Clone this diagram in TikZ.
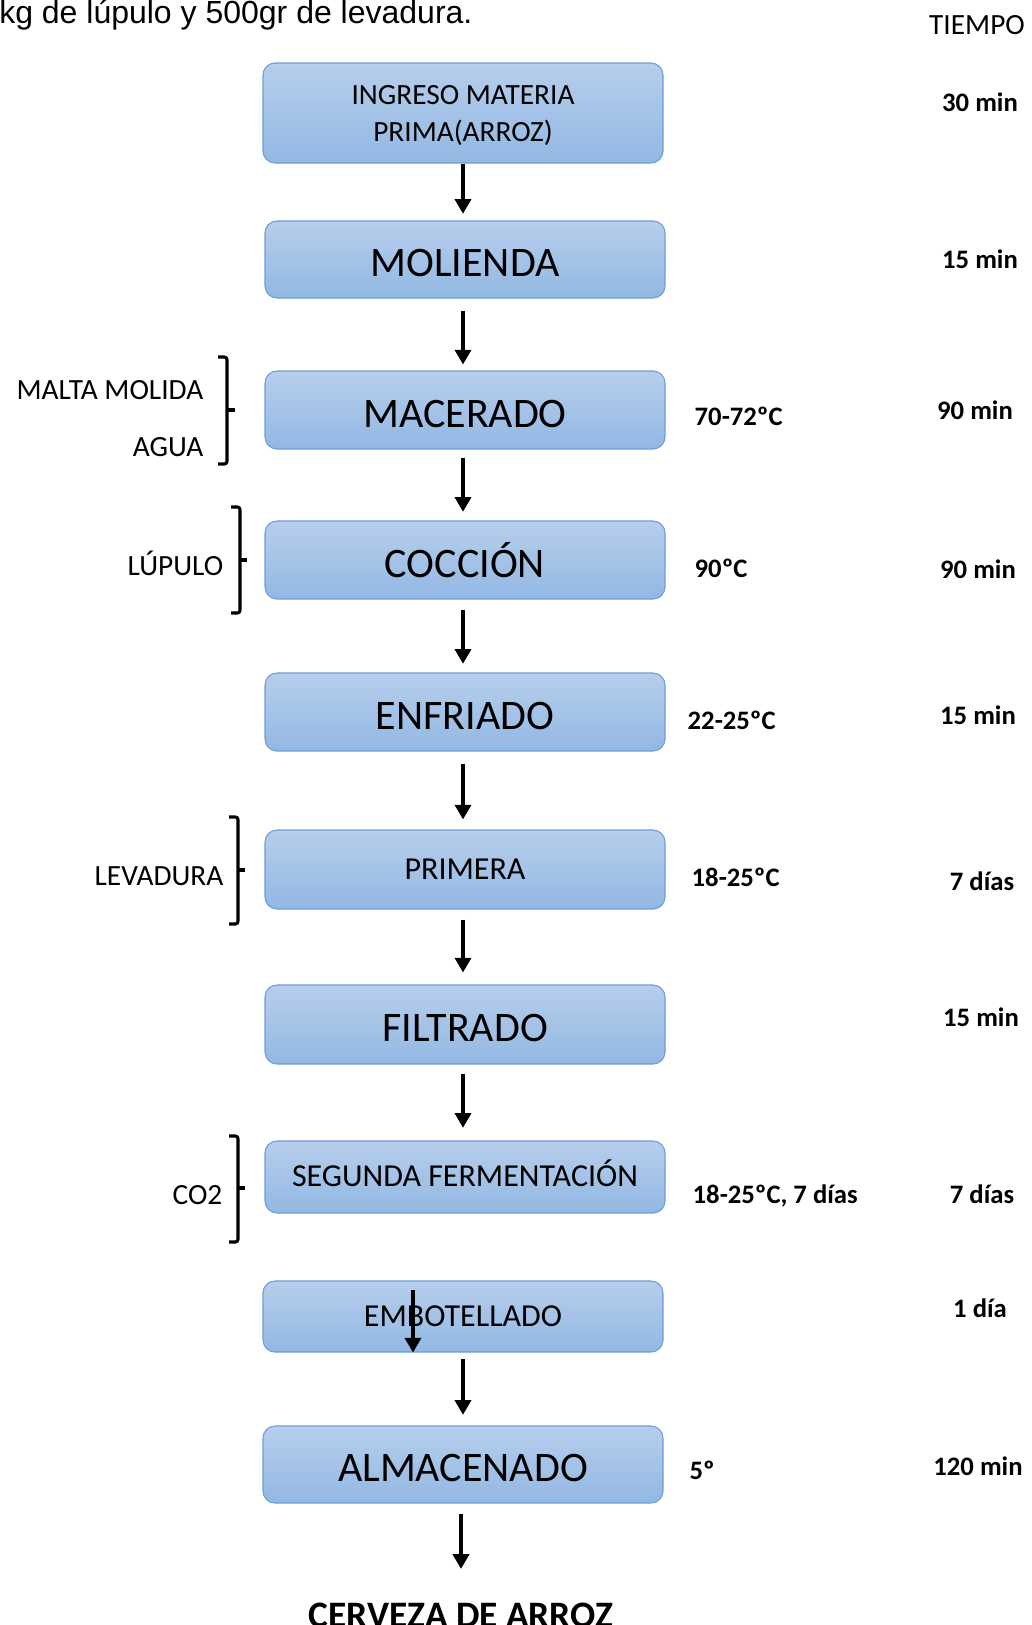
\documentclass[tikz,border=0pt]{standalone}
\usepackage{fontspec}
\usepackage{xcolor}
\usepackage{tikz}
\usetikzlibrary{arrows.meta}

\setmainfont{Carlito}
\newfontfamily\arial{Liberation Sans}

\definecolor{stagetop}{RGB}{183,206,236}
\definecolor{stagebot}{RGB}{146,184,227}
\definecolor{stageline}{RGB}{108,157,218}

\tikzset{
    stage/.style={draw=stageline, line width=0.8pt, rounded corners=9pt,
        top color=stagetop, bottom color=stagebot,
        minimum width=300pt, minimum height=58.5pt, inner sep=0pt, align=center},
    bigstage/.style={stage, font=\fontsize{31.5}{36}\selectfont, text height=25.5pt, text depth=0pt},
    smallstage/.style={stage, font=\fontsize{24}{27}\selectfont},
    flow/.style={-{Triangle[width=12pt,length=11pt]}, line width=2.6pt},
    brace/.style={line width=2.3pt, rounded corners=2pt},
    inlabel/.style={anchor=east, font=\fontsize{22}{26}\selectfont},
    templabel/.style={anchor=west, font=\fontsize{20}{24}\selectfont\bfseries},
    timelabel/.style={font=\fontsize{20}{24}\selectfont\bfseries}
}

\begin{document}
\begin{tikzpicture}[x=0.75pt, y=-0.75pt]
    \useasboundingbox (0,0) rectangle (1032,1625);

    % text above the chart
    \node[anchor=base west, inner sep=0pt, font=\arial\fontsize{24}{28}\selectfont] (intro) at (-1,23) {kg de lúpulo y 500gr de levadura.};
    \node[font=\fontsize{22}{26}\selectfont] (tiempo) at (977,25) {TIEMPO};

    % process steps
    \node[stage, minimum height=75pt, font=\fontsize{22}{28}\selectfont, text height=46.5pt] (ing) at (463,113) {INGRESO MATERIA\\PRIMA(ARROZ)};
    \node[bigstage, minimum height=57.75pt] (mol) at (465,259.5) {MOLIENDA};
    \node[bigstage] (mac) at (465,410) {MACERADO};
    \node[bigstage] (coc) at (465,560) {COCCIÓN};
    \node[bigstage] (enf) at (465,712) {ENFRIADO};
    \node[smallstage, minimum height=59.25pt] (pri) at (465,869.5) {PRIMERA};
    \node[bigstage, minimum height=59.25pt] (fil) at (465,1024.5) {FILTRADO};
    \node[smallstage, minimum height=54pt, text height=14pt, text depth=0pt] (seg) at (465,1177) {SEGUNDA FERMENTACIÓN};
    \node[smallstage, minimum height=53.25pt] (emb) at (463,1316.5) {EMBOTELLADO};
    \node[bigstage, minimum height=57.75pt] (alm) at (463,1464.5) {ALMACENADO};

    % end product
    \node[anchor=base, inner sep=0pt, font=\fontsize{28}{32}\selectfont\bfseries] (prod) at (461,1627) {CERVEZA DE ARROZ};

    % arrows between steps
    \draw[flow, shorten >=5pt] (ing.south) -- (ing.south |- mol.north);
    \draw[flow, shorten <=9pt, shorten >=4.5pt] ([xshift=-1.5pt]mol.south) -- ([xshift=-1.5pt]mol.south |- mac.north);
    \draw[flow, shorten <=6pt, shorten >=6.5pt] ([xshift=-1.5pt]mac.south) -- ([xshift=-1.5pt]mac.south |- coc.north);
    \draw[flow, shorten <=7.5pt, shorten >=6.5pt] ([xshift=-1.5pt]coc.south) -- ([xshift=-1.5pt]coc.south |- enf.north);
    \draw[flow, shorten <=9.5pt, shorten >=7.5pt] ([xshift=-1.5pt]enf.south) -- ([xshift=-1.5pt]enf.south |- pri.north);
    \draw[flow, shorten <=7.5pt, shorten >=9pt] ([xshift=-1.5pt]pri.south) -- ([xshift=-1.5pt]pri.south |- fil.north);
    \draw[flow, shorten <=7pt, shorten >=9.5pt] ([xshift=-1.5pt]fil.south) -- ([xshift=-1.5pt]fil.south |- seg.north);
    % this one sits inside the bottling box
    \draw[flow] ([xshift=-37.5pt, yshift=-7pt]emb.north) -- ([xshift=-37.5pt]emb.south);
    \draw[flow, shorten <=5pt, shorten >=8pt] (emb.south) -- (emb.south |- alm.north);
    \draw[flow, shorten <=8pt] ([xshift=-1.5pt]alm.south) -- ([xshift=-1.5pt, yshift=-49pt]alm.south);

    % inputs with braces
    \node[inlabel] (malta) at (208,390) {MALTA MOLIDA};
    \node[inlabel] (agua) at (208,447) {AGUA};
    \draw[brace] (218,357) -- (227,357) -- (227,464) -- (218,464);
    \draw[line width=2.3pt] (227,410) -- (235,410);

    \node[inlabel] (lup) at (228,563) {LÚPULO};
    \draw[brace] (231,507) -- (240,507) -- (240,613) -- (231,613);
    \draw[line width=2.3pt] (240,560) -- (247,560);

    \node[inlabel] (lev) at (228,876) {LEVADURA};
    \draw[brace] (229,817) -- (238,817) -- (238,924) -- (229,924);
    \draw[line width=2.3pt] (238,870) -- (245,870);

    \node[inlabel] (co2) at (227,1195) {CO2};
    \draw[brace] (229,1136) -- (238,1136) -- (238,1242) -- (229,1242);
    \draw[line width=2.3pt] (238,1188) -- (245,1188);

    % temperatures
    \node[templabel] (t3) at (690,416) {70-72ºC};
    \node[templabel] (t4) at (690,568) {90ºC};
    \node[templabel] (t5) at (683,720) {22-25ºC};
    \node[templabel] (t6) at (687,877) {18-25ºC};
    \node[templabel] (t8) at (688,1196) {18-25ºC, 7 días};
    \node[templabel] (t10) at (685,1470) {5º};

    % times
    \node[timelabel] (d1) at (980,102) {30 min};
    \node[timelabel] (d2) at (980,259) {15 min};
    \node[timelabel] (d3) at (975,410) {90 min};
    \node[timelabel] (d4) at (978,569) {90 min};
    \node[timelabel] (d5) at (978,715) {15 min};
    \node[timelabel] (d6) at (982,881) {7 días};
    \node[timelabel] (d7) at (981,1017) {15 min};
    \node[timelabel] (d8) at (982,1194) {7 días};
    \node[timelabel] (d9) at (980,1308) {1 día};
    \node[timelabel] (d10) at (978,1466) {120 min};
\end{tikzpicture}
\end{document}
